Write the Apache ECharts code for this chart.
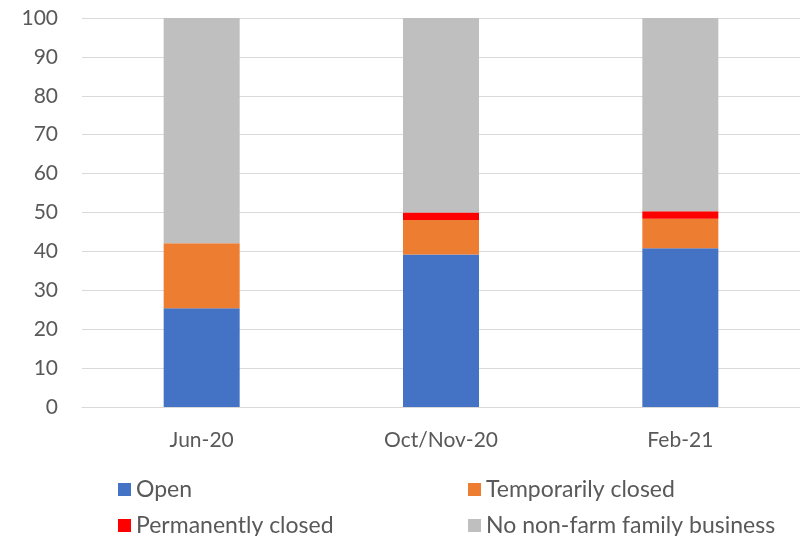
<!DOCTYPE html>
<html><head><meta charset="utf-8">
<script src="https://cdn.jsdelivr.net/npm/echarts@6/dist/echarts.min.js"></script>
<style>html,body{margin:0;padding:0;background:#fff}#c{width:800px;height:536px}</style>
</head><body><div id="c"></div>
<script>
const categories = ['Jun-20', 'Oct/Nov-20', 'Feb-21'];
const openVals = [25.4, 39.2, 40.8];
const tempClosed = [16.7, 8.9, 7.6];
const permClosed = [0, 1.9, 1.9];
const noBusiness = [57.9, 50.0, 49.7];
const yTicks = [0, 10, 20, 30, 40, 50, 60, 70, 80, 90, 100];

const font = 'Lato, "Noto Sans", sans-serif';
const chart = echarts.init(document.getElementById('c'));
const names = ['Open', 'Temporarily closed', 'Permanently closed', 'No non-farm family business'];
const colors = ['#4472C4', '#ED7D31', '#FF0000', '#BFBFBF'];
const vals = [openVals, tempClosed, permClosed, noBusiness];
const legendPos = [[113, 473], [463, 473], [113, 509], [463, 509]];
chart.setOption({
  animation: false,
  grid: { left: 82, width: 723, top: 18, bottom: 129 },
  legend: names.map((n, i) => ({
    data: [n], left: legendPos[i][0], top: legendPos[i][1],
    icon: 'rect', itemWidth: 13, itemHeight: 13, itemGap: 0,
    textStyle: { fontFamily: font, fontSize: 23, color: '#595959', padding: [0, 0, 0, 0] }
  })),
  xAxis: {
    type: 'category', data: categories,
    axisLine: { lineStyle: { color: '#D9D9D9' } },
    axisTick: { show: false },
    axisLabel: { fontFamily: font, fontSize: 21, color: '#595959', margin: 23 }
  },
  yAxis: {
    type: 'value', min: yTicks[0], max: yTicks[yTicks.length - 1], interval: 10,
    axisLabel: { fontFamily: font, fontSize: 21, color: '#595959', margin: 24 },
    splitLine: { lineStyle: { color: '#D9D9D9', width: 1 } },
    axisLine: { show: false }, axisTick: { show: false }
  },
  series: names.map((n, i) => ({
    name: n, type: 'bar', stack: 'total', data: vals[i], barWidth: 76,
    itemStyle: { color: colors[i] }
  }))
});
</script></body></html>
